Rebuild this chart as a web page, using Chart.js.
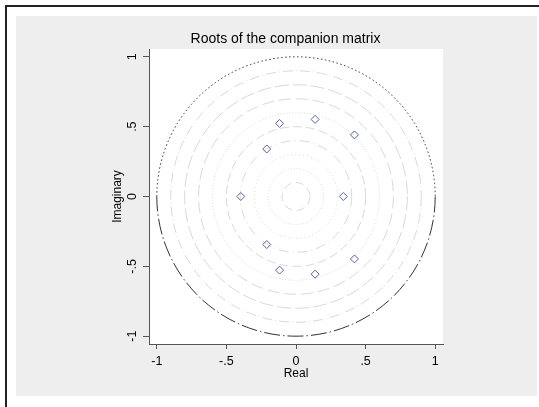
<!DOCTYPE html>
<html>
<head>
<meta charset="utf-8">
<script src="https://cdn.jsdelivr.net/npm/chart.js@4/dist/chart.umd.min.js"></script>
<style>
  body { margin: 0; background: #fff; }
  canvas { display: block; }
</style>
</head>
<body>
<canvas id="grafico" width="539" height="407"></canvas>
<script>
// eigenvalues of the companion matrix
var rootsReal = [-0.397, 0.34, -0.21, -0.21, -0.118, -0.118, 0.137, 0.137, 0.42, 0.42];
var rootsImag = [0, 0, 0.34, -0.344, 0.523, -0.527, 0.552, -0.556, 0.441, -0.447];

var xTicks = [-1, -0.5, 0, 0.5, 1];
var yTicks = [-1, -0.5, 0, 0.5, 1];

// reference circles inside the unit circle
var radios = [0.1, 0.2, 0.3, 0.4, 0.5, 0.6, 0.7, 0.8, 0.9];
var tracos = [[8, 5], [1, 2], [1, 3], [10, 4, 1, 4], [9, 4], [1, 2], [12, 5], [14, 4], [10, 3, 1, 3]];

var fonte = "'Liberation Sans', Arial, sans-serif";
var corEixo = '#555';

function fmtTick(v) {
    var s = String(v);
    return s.replace('0.', '.');
}

var pontos = [];
for (var i = 0; i < rootsReal.length; i++) {
    pontos.push({ x: rootsReal[i], y: rootsImag[i] });
}

var fundoPlugin = {
    id: 'fundo',
    beforeDraw: function (chart) {
        var ctx = chart.ctx;
        var a = chart.chartArea;
        ctx.save();
        ctx.fillStyle = '#fff';
        ctx.fillRect(0, 0, chart.width, chart.height);
        ctx.fillStyle = '#eeeeee';
        ctx.fillRect(16, 16, 521, 380);
        ctx.strokeStyle = '#222';
        ctx.lineWidth = 2;
        ctx.beginPath();
        ctx.moveTo(6, 407);
        ctx.lineTo(6, 6);
        ctx.lineTo(539, 6);
        ctx.stroke();
        ctx.fillStyle = '#fff';
        ctx.fillRect(a.left, a.top, a.right - a.left, a.bottom - a.top);
        // title
        ctx.fillStyle = '#000';
        ctx.font = '14px ' + fonte;
        ctx.textAlign = 'center';
        ctx.textBaseline = 'middle';
        ctx.fillText('Roots of the companion matrix', 285.5, 39.5);
        ctx.restore();
    },
    beforeDatasetsDraw: function (chart) {
        var ctx = chart.ctx;
        var sx = chart.scales.x, sy = chart.scales.y;
        var cx = sx.getPixelForValue(0), cy = sy.getPixelForValue(0);
        ctx.save();
        ctx.lineWidth = 1;
        ctx.strokeStyle = '#d9d9d9';
        for (var k = 0; k < radios.length; k++) {
            var rx = sx.getPixelForValue(radios[k]) - cx;
            var ry = cy - sy.getPixelForValue(radios[k]);
            ctx.setLineDash(tracos[k]);
            ctx.beginPath();
            ctx.ellipse(cx, cy, rx, ry, 0, 0, Math.PI * 2);
            ctx.stroke();
        }
        // unit circle: upper half dotted, lower half dash-dot
        var ux = sx.getPixelForValue(1) - cx;
        var uy = cy - sy.getPixelForValue(1);
        ctx.strokeStyle = '#333';
        ctx.setLineDash([1.5, 2.5]);
        ctx.beginPath();
        ctx.ellipse(cx, cy, ux, uy, 0, Math.PI, Math.PI * 2);
        ctx.stroke();
        ctx.setLineDash([16, 3, 1.5, 3]);
        ctx.beginPath();
        ctx.ellipse(cx, cy, ux, uy, 0, 0, Math.PI);
        ctx.stroke();
        ctx.restore();
    },
    afterDraw: function (chart) {
        // rotated y tick labels, as in the original
        var ctx = chart.ctx;
        var sy = chart.scales.y;
        ctx.save();
        ctx.fillStyle = '#000';
        ctx.font = '12.5px ' + fonte;
        ctx.textAlign = 'center';
        ctx.textBaseline = 'middle';
        for (var k = 0; k < yTicks.length; k++) {
            var py = sy.getPixelForValue(yTicks[k]);
            ctx.save();
            ctx.translate(133, py);
            ctx.rotate(-Math.PI / 2);
            ctx.fillText(fmtTick(yTicks[k]), 0, 0);
            ctx.restore();
        }
        ctx.restore();
    }
};

new Chart(document.getElementById('grafico').getContext('2d'), {
    type: 'scatter',
    data: {
        datasets: [{
            label: 'Roots',
            data: pontos,
            pointStyle: 'rectRot',
            pointRadius: 4,
            pointHoverRadius: 4,
            backgroundColor: 'rgba(0,0,0,0)',
            borderColor: '#5a6493',
            borderWidth: 1
        }]
    },
    options: {
        responsive: false,
        animation: false,
        devicePixelRatio: 1,
        layout: { padding: { left: 100, top: 49, right: 96, bottom: 23 } },
        plugins: {
            legend: { display: false },
            title: { display: false },
            tooltip: { enabled: false }
        },
        scales: {
            x: {
                type: 'linear',
                min: -1.056,
                max: 1.056,
                afterBuildTicks: function (scale) {
                    scale.ticks = xTicks.map(function (v) { return { value: v }; });
                },
                afterFit: function (scale) { scale.height = 40; },
                grid: { drawOnChartArea: false, drawTicks: true, tickLength: 5, color: corEixo },
                border: { color: corEixo, width: 1 },
                ticks: {
                    color: '#000',
                    padding: 5,
                    font: { family: fonte, size: 12.5 },
                    maxRotation: 0,
                    callback: function (v) { return fmtTick(v); }
                },
                title: {
                    display: true,
                    text: 'Real',
                    color: '#000',
                    font: { family: fonte, size: 12 },
                    padding: { top: 0, bottom: 3 }
                }
            },
            y: {
                type: 'linear',
                min: -1.056,
                max: 1.056,
                afterBuildTicks: function (scale) {
                    scale.ticks = yTicks.map(function (v) { return { value: v }; });
                },
                afterFit: function (scale) { scale.width = 49; },
                grid: { drawOnChartArea: false, drawTicks: true, tickLength: 6, color: corEixo },
                border: { color: corEixo, width: 1 },
                ticks: { display: false },
                title: {
                    display: true,
                    text: 'Imaginary',
                    color: '#000',
                    font: { family: fonte, size: 12 },
                    padding: { top: 10, bottom: 0 }
                }
            }
        }
    },
    plugins: [fundoPlugin]
});
</script>
</body>
</html>
